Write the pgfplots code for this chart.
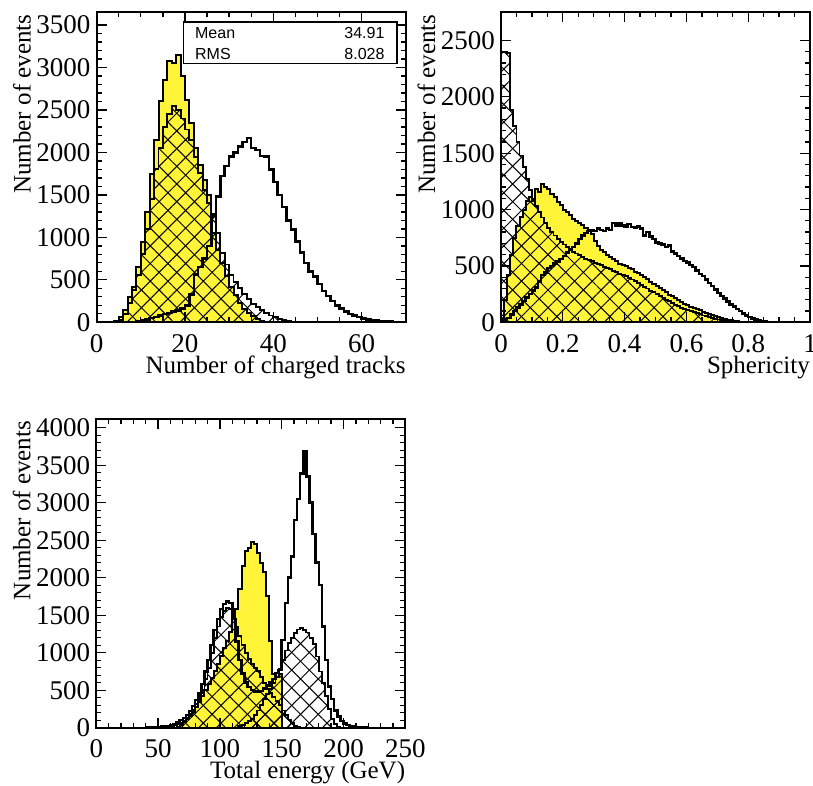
\documentclass[border=0pt]{standalone}
\usepackage{pgfplots}
\pgfplotsset{compat=1.18}
\usetikzlibrary{patterns.meta}
\usepackage{fontspec}
\setmainfont{Liberation Serif}
\newfontfamily\statfont{Liberation Sans}
\definecolor{histyellow}{RGB}{255,244,55}
\pgfplotsset{
  rootaxis/.style={
    scale only axis, width=309pt, height=310pt,
    axis line style={line width=1.8pt},
    tick align=inside, major tick length=10pt, minor tick length=5pt,
    every tick/.style={black, line width=1.3pt},
    xtick pos=both, ytick pos=both,
    scaled ticks=false,
    /pgf/number format/1000 sep={},
    /pgf/number format/assume math mode=true,
    tick label style={font=\fontsize{27}{27}\selectfont},
    yticklabel style={anchor=east, inner sep=0pt, xshift=-6pt},
    xticklabel style={anchor=north, inner sep=0pt, yshift=-12pt},
    label style={font=\fontsize{25}{25}\selectfont},
    xlabel style={at={([yshift=-51pt]rel axis cs:1,0)}, anchor=base east, inner sep=0pt},
    ylabel style={at={([xshift=-66pt,yshift=-2pt]rel axis cs:0,1)}, rotate=0, anchor=base east, inner sep=0pt},
    minor y tick num=4,
    ymin=0, axis on top,
  },
  yhist/.style={fill=histyellow, draw=black, line width=2pt, const plot mark left},
  hhist/.style={draw=black, line width=1.9pt, const plot mark left,
    pattern={Lines[angle=45,distance=12.5pt,line width=1pt]},
    postaction={pattern={Lines[angle=-45,distance=12.5pt,line width=1pt]}}},
  ohist/.style={draw=black, line width=2.5pt, const plot mark left},
}
\begin{document}
\begin{tikzpicture}
\useasboundingbox (0,0) rectangle (813pt,785pt);
% ---------------- Panel 1: charged tracks
\begin{axis}[rootaxis, at={(96.7pt,462.7pt)}, anchor=south west,
  xmin=0, xmax=70, xtick={0,20,40,60}, minor x tick num=3,
  ymax=3650, ytick={0,500,1000,1500,2000,2500,3000,3500},
  xlabel={Number of charged tracks}, ylabel={Number of events}]
\addplot[yhist] table {
3 0
4 10
5 60
6 150
7 300
8 420
9 650
10 950
11 1300
12 1750
13 2150
14 2600
15 2850
16 3080
17 3050
18 3150
19 2900
20 2620
21 2350
22 2050
23 1850
24 1680
25 1500
26 1050
27 850
28 700
29 550
30 420
31 320
32 230
33 160
34 110
35 70
36 40
37 20
38 8
39 3
40 0
};
\addplot[hhist] table {
4 0
5 30
6 100
7 230
8 380
9 560
10 800
11 1100
12 1450
13 1800
14 2050
15 2300
16 2450
17 2550
18 2500
19 2400
20 2270
21 2150
22 1950
23 1760
24 1560
25 1400
26 1280
27 1050
28 820
29 680
30 560
31 470
32 400
33 330
34 270
35 220
36 180
37 140
38 110
39 80
40 60
41 40
42 25
43 15
44 8
45 4
46 0
};
\addplot[ohist] table {
7 0
8 5
9 10
10 20
11 35
12 50
13 65
14 80
15 95
16 110
17 125
18 140
19 160
20 200
21 330
22 560
23 650
24 750
25 900
26 1250
27 1480
28 1720
29 1840
30 1950
31 2000
32 2070
33 2120
34 2170
35 2050
36 2030
37 1960
38 1950
39 1800
40 1650
41 1500
42 1360
43 1200
44 1090
45 950
46 820
47 700
48 600
49 540
50 450
51 370
52 310
53 250
54 200
55 160
56 130
57 100
58 80
59 60
60 45
61 35
62 28
63 20
64 14
65 10
66 7
67 5
68 3
69 2
70 0
};
\draw[line width=1.3pt, fill=white] (rel axis cs:0.282,0.834) rectangle (rel axis cs:0.972,0.969);
\node[anchor=west, inner sep=0pt, font=\statfont\fontsize{16}{16}\selectfont] at (rel axis cs:0.318,0.934) {Mean};
\node[anchor=east, inner sep=0pt, font=\statfont\fontsize{16}{16}\selectfont] at (rel axis cs:0.932,0.934) {34.91};
\node[anchor=west, inner sep=0pt, font=\statfont\fontsize{16}{16}\selectfont] at (rel axis cs:0.318,0.867) {RMS};
\node[anchor=east, inner sep=0pt, font=\statfont\fontsize{16}{16}\selectfont] at (rel axis cs:0.932,0.867) {8.028};
\end{axis}
% ---------------- Panel 2: sphericity
\begin{axis}[rootaxis, at={(501pt,462.7pt)}, anchor=south west,
  xmin=0, xmax=1, xtick={0,0.2,0.4,0.6,0.8,1}, minor x tick num=3,
  ymax=2750, ytick={0,500,1000,1500,2000,2500},
  xlabel={Sphericity}, ylabel={Number of events}]
\addplot[yhist] table {
0.00 0
0.00 30
0.01 200
0.02 420
0.03 600
0.04 750
0.05 850
0.06 930
0.07 1000
0.08 1080
0.09 1110
0.10 1080
0.11 1180
0.12 1160
0.13 1230
0.14 1200
0.15 1180
0.16 1140
0.17 1110
0.18 1070
0.19 1040
0.20 1000
0.21 980
0.22 950
0.23 920
0.24 900
0.25 880
0.26 860
0.27 840
0.28 820
0.29 780
0.30 720
0.31 680
0.32 640
0.33 620
0.34 600
0.35 580
0.36 560
0.37 540
0.38 520
0.39 505
0.40 495
0.41 480
0.42 470
0.43 450
0.44 435
0.45 420
0.46 400
0.47 380
0.48 360
0.49 340
0.50 320
0.51 305
0.52 285
0.53 265
0.54 245
0.55 230
0.56 215
0.57 200
0.58 180
0.59 165
0.60 150
0.61 140
0.62 130
0.63 120
0.64 105
0.65 95
0.66 85
0.67 75
0.68 65
0.69 55
0.70 45
0.71 36
0.72 28
0.73 22
0.74 16
0.75 12
0.76 8
0.77 5
0.78 3
0.79 2
0.80 1
0.81 0
};
\addplot[hhist] table {
0.00 0
0.00 2400
0.01 2400
0.02 2390
0.03 1880
0.04 1740
0.05 1600
0.06 1480
0.07 1380
0.08 1270
0.09 1170
0.10 1090
0.11 1030
0.12 980
0.13 930
0.14 880
0.15 840
0.16 800
0.17 770
0.18 740
0.19 710
0.20 690
0.21 665
0.22 645
0.23 625
0.24 610
0.25 595
0.26 580
0.27 565
0.28 550
0.29 540
0.30 530
0.31 520
0.32 505
0.33 490
0.34 480
0.35 470
0.36 455
0.37 445
0.38 430
0.39 420
0.40 410
0.41 395
0.42 380
0.43 365
0.44 350
0.45 330
0.46 315
0.47 300
0.48 280
0.49 265
0.50 250
0.51 235
0.52 220
0.53 200
0.54 185
0.55 170
0.56 155
0.57 145
0.58 130
0.59 120
0.60 110
0.61 100
0.62 90
0.63 80
0.64 70
0.65 60
0.66 52
0.67 44
0.68 37
0.69 30
0.70 25
0.71 20
0.72 16
0.73 12
0.74 10
0.75 8
0.76 6
0.77 4
0.78 3
0.79 2
0.80 1
0.81 0
};
\addplot[ohist] table {
0.00 0
0.00 10
0.01 15
0.02 40
0.03 70
0.04 100
0.05 130
0.06 160
0.07 190
0.08 220
0.09 250
0.10 280
0.11 310
0.12 360
0.13 420
0.14 440
0.15 480
0.16 500
0.17 520
0.18 540
0.19 560
0.20 590
0.21 620
0.22 650
0.23 670
0.24 700
0.25 740
0.26 770
0.27 790
0.28 810
0.29 820
0.30 810
0.31 830
0.32 820
0.33 810
0.34 830
0.35 820
0.36 880
0.37 860
0.38 880
0.39 860
0.40 850
0.41 870
0.42 845
0.43 840
0.44 850
0.45 830
0.46 770
0.47 800
0.48 760
0.49 740
0.50 710
0.51 700
0.52 690
0.53 670
0.54 680
0.55 630
0.56 610
0.57 590
0.58 565
0.59 545
0.60 530
0.61 510
0.62 490
0.63 460
0.64 430
0.65 410
0.66 380
0.67 350
0.68 320
0.69 290
0.70 260
0.71 235
0.72 210
0.73 185
0.74 160
0.75 140
0.76 120
0.77 100
0.78 80
0.79 62
0.80 45
0.81 33
0.82 24
0.83 16
0.84 10
0.85 6
0.86 4
0.87 2
0.88 1
0.89 0
1.00 0
};
\end{axis}
% ---------------- Panel 3: total energy
\begin{axis}[rootaxis, at={(96.3pt,57.3pt)}, anchor=south west, height=309pt,
  xmin=0, xmax=250, xtick={0,50,100,150,200,250}, minor x tick num=4,
  ymax=4120, ytick={0,500,1000,1500,2000,2500,3000,3500,4000},
  xlabel={Total energy (GeV)}, ylabel={Number of events}]
\addplot[yhist] table {
62.5 0
65 15
67.5 40
70 70
72.5 110
75 160
77.5 210
80 270
82.5 340
85 420
87.5 500
90 580
92.5 660
95 750
97.5 850
100 950
102.5 1060
105 1160
107.5 1270
110 1480
112.5 1580
115 1850
117.5 2150
120 2350
122.5 2400
125 2480
127.5 2450
130 2330
132.5 2200
135 2070
137.5 1750
140 1150
142.5 720
145 730
147.5 720
150 0
};
\addplot[hhist] table {
52.5 0
55 5
57.5 10
60 20
62.5 30
65 45
67.5 65
70 90
72.5 130
75 180
77.5 240
80 320
82.5 400
85 500
87.5 650
90 800
92.5 1000
95 1200
97.5 1350
100 1480
102.5 1560
105 1600
107.5 1580
110 1480
112.5 1350
115 1220
117.5 1100
120 1000
122.5 920
125 850
127.5 800
130 760
132.5 680
135 600
137.5 520
140 460
142.5 410
145 360
147.5 300
150 230
152.5 170
155 110
157.5 60
160 25
162.5 10
165 0
};
\addplot[hhist] table {
112.5 0
115 20
117.5 40
120 60
122.5 90
125 120
127.5 170
130 230
132.5 300
135 380
137.5 450
140 520
142.5 600
145 680
147.5 780
150 900
152.5 1030
155 1130
157.5 1200
160 1260
162.5 1310
165 1330
167.5 1300
170 1270
172.5 1200
175 1120
177.5 950
180 750
182.5 600
185 420
187.5 250
190 120
192.5 50
195 15
197.5 0
};
\addplot[ohist] table {
40 0
42.5 2
45 4
47.5 6
50 9
52.5 13
55 18
57.5 25
60 35
62.5 50
65 70
67.5 100
70 130
72.5 170
75 220
77.5 290
80 370
82.5 460
85 580
87.5 750
90 900
92.5 1100
95 1300
97.5 1450
100 1580
102.5 1650
105 1680
107.5 1660
110 1450
112.5 1150
115 900
117.5 720
120 600
122.5 540
125 500
127.5 480
130 480
132.5 490
135 520
137.5 560
140 610
142.5 650
145 730
147.5 770
150 1170
152.5 1660
155 2000
157.5 2280
160 2770
162.5 3050
165 3390
167.5 3680
170 3350
172.5 3000
175 2580
177.5 2200
180 1900
182.5 1350
185 900
187.5 550
190 380
192.5 230
195 150
197.5 90
200 55
202.5 35
205 22
207.5 14
210 9
212.5 5
215 3
217.5 1
220 0
};
\end{axis}
\end{tikzpicture}
\end{document}
